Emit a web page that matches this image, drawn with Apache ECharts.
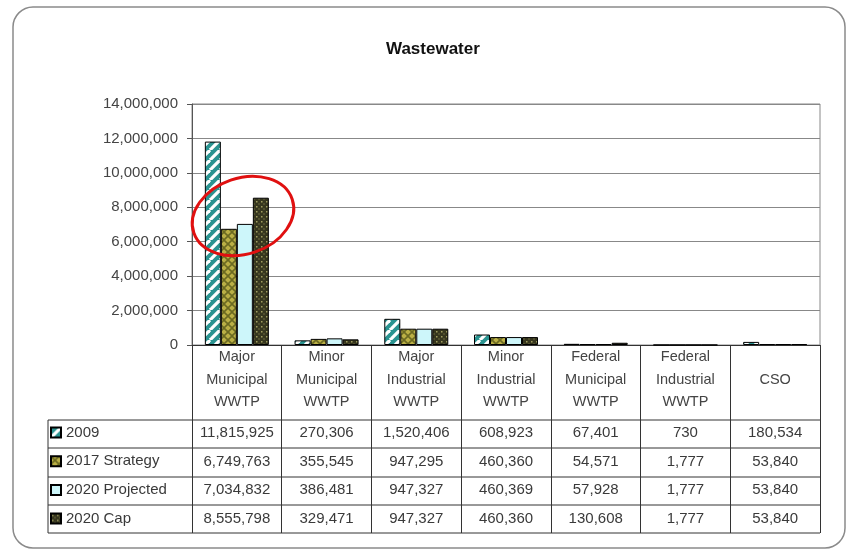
<!DOCTYPE html>
<html>
<head>
<meta charset="utf-8">
<script src="https://cdn.jsdelivr.net/npm/echarts@6/dist/echarts.min.js"></script>
<style>
  html, body { margin: 0; padding: 0; background: #fff; }
  #chart { width: 850px; height: 555px; }
</style>
</head>
<body>
<div id="chart"></div>
<script>
// categories (x axis / table header)
const categories = [
  'Major\nMunicipal\nWWTP',
  'Minor\nMunicipal\nWWTP',
  'Major\nIndustrial\nWWTP',
  'Minor\nIndustrial\nWWTP',
  'Federal\nMunicipal\nWWTP',
  'Federal\nIndustrial\nWWTP',
  '\nCSO\n'
]
const seriesNames = ['2009', '2017 Strategy', '2020 Projected', '2020 Cap']
const v2009 = [11815925, 270306, 1520406, 608923, 67401, 730, 180534]
const v2017 = [6749763, 355545, 947295, 460360, 54571, 1777, 53840]
const v2020Proj = [7034832, 386481, 947327, 460369, 57928, 1777, 53840]
const v2020Cap = [8555798, 329471, 947327, 460360, 130608, 1777, 53840]
const yTicks = [0, 2000000, 4000000, 6000000, 8000000, 10000000, 12000000, 14000000]

const allValues = [v2009, v2017, v2020Proj, v2020Cap]
const font = '"Liberation Sans", Arial, sans-serif'

// fill patterns like the old excel chart
function makePattern(size, draw) {
  const c = document.createElement('canvas')
  c.width = size
  c.height = size
  draw(c.getContext('2d'), size)
  return { image: c, repeat: 'repeat' }
}

const stripes = makePattern(10, (ctx, s) => {
  ctx.fillStyle = '#2a9390'
  ctx.fillRect(0, 0, s, s)
  ctx.strokeStyle = '#ffffff'
  ctx.lineWidth = 3.2
  for (const d of [-s, 0, s]) {
    ctx.beginPath()
    ctx.moveTo(d, s)
    ctx.lineTo(d + s, 0)
    ctx.stroke()
  }
})

const diamonds = makePattern(8, (ctx, s) => {
  ctx.fillStyle = '#bbb046'
  ctx.fillRect(0, 0, s, s)
  ctx.strokeStyle = '#6c6a22'
  ctx.lineWidth = 1.6
  for (const d of [-s, 0, s]) {
    ctx.beginPath()
    ctx.moveTo(d, s)
    ctx.lineTo(d + s, 0)
    ctx.stroke()
    ctx.beginPath()
    ctx.moveTo(d, 0)
    ctx.lineTo(d + s, s)
    ctx.stroke()
  }
})

const dots = makePattern(5, (ctx, s) => {
  ctx.fillStyle = '#36361e'
  ctx.fillRect(0, 0, s, s)
  ctx.fillStyle = '#a09d60'
  ctx.fillRect(1, 1, 1.5, 1.5)
  ctx.fillRect(3.5, 3.5, 1, 1)
})

const fills = [stripes, diamonds, '#cdf6fa', dots]

const chart = echarts.init(document.getElementById('chart'))

const gridBox = { left: 192, right: 30, top: 104, bottom: 210 }
const tableLeft = 48
const tableRight = 820
const rowLines = [420, 448, 477, 505, 533]
const rowOffsets = [80, 109, 137, 166]

const fmt = (n) => n.toLocaleString('en-US')

// table rows drawn as extra x axes under the grid
const tableAxes = allValues.map((vals, k) => ({
  type: 'category',
  data: categories,
  gridIndex: 0,
  position: 'bottom',
  offset: rowOffsets[k],
  axisLine: { show: false },
  axisTick: { show: false },
  splitLine: { show: false },
  axisLabel: {
    interval: 0,
    margin: 0,
    fontFamily: font,
    fontSize: 15,
    color: '#3a3a3a',
    formatter: (val, i) => fmt(vals[i])
  }
}))

const option = {
  backgroundColor: '#fff',
  animation: false,
  title: {
    text: 'Wastewater',
    left: 381,
    top: 36,
    textStyle: { fontFamily: font, fontSize: 17, fontWeight: 'bold', color: '#111' }
  },
  legend: {
    data: seriesNames,
    orient: 'vertical',
    left: 50,
    top: 425,
    padding: 0,
    itemWidth: 10,
    itemHeight: 10,
    itemGap: 13.7,
    icon: 'rect',
    selectedMode: false,
    textStyle: { fontFamily: font, fontSize: 15, color: '#3a3a3a', lineHeight: 15 }
  },
  grid: {
    ...gridBox,
    show: true,
    borderColor: '#888',
    borderWidth: 1
  },
  xAxis: [
    {
      type: 'category',
      data: categories,
      axisLine: { lineStyle: { color: '#333', width: 1 } },
      axisTick: { show: true, length: 188, lineStyle: { color: '#333' } },
      axisLabel: {
        interval: 0,
        margin: 1,
        fontFamily: font,
        fontSize: 14.5,
        lineHeight: 22.5,
        color: '#444'
      }
    },
    ...tableAxes
  ],
  yAxis: {
    type: 'value',
    min: yTicks[0],
    max: yTicks[yTicks.length - 1],
    interval: 2000000,
    axisLine: { show: true, lineStyle: { color: '#555' } },
    axisTick: { show: true, length: 5, lineStyle: { color: '#555' } },
    splitLine: { lineStyle: { color: '#888', width: 1 } },
    axisLabel: {
      margin: 14,
      fontFamily: font,
      fontSize: 15,
      color: '#444',
      formatter: (v) => fmt(v)
    }
  },
  series: seriesNames.map((name, k) => ({
    name: name,
    type: 'bar',
    data: allValues[k],
    barWidth: 16,
    barGap: '0%',
    itemStyle: { color: fills[k], borderColor: '#000', borderWidth: 1 }
  })),
  graphic: [
    {
      type: 'rect',
      shape: { x: 13, y: 7, width: 832, height: 541, r: 20 },
      style: { fill: null, stroke: '#8a8a8a', lineWidth: 1.5 },
      silent: true
    },
    ...rowLines.map((y) => ({
      type: 'line',
      shape: { x1: tableLeft, y1: y, x2: tableRight, y2: y },
      style: { stroke: '#333', lineWidth: 1 },
      silent: true
    })),
    {
      type: 'line',
      shape: { x1: tableLeft, y1: rowLines[0], x2: tableLeft, y2: rowLines[rowLines.length - 1] },
      style: { stroke: '#333', lineWidth: 1 },
      silent: true
    },
    // red highlight ring
    {
      type: 'ellipse',
      x: 243,
      y: 216,
      rotation: 0.33,
      shape: { cx: 0, cy: 0, rx: 52, ry: 38 },
      style: { fill: null, stroke: '#e01010', lineWidth: 3 },
      z: 100,
      silent: true
    }
  ]
}

chart.setOption(option)
</script>
</body>
</html>
